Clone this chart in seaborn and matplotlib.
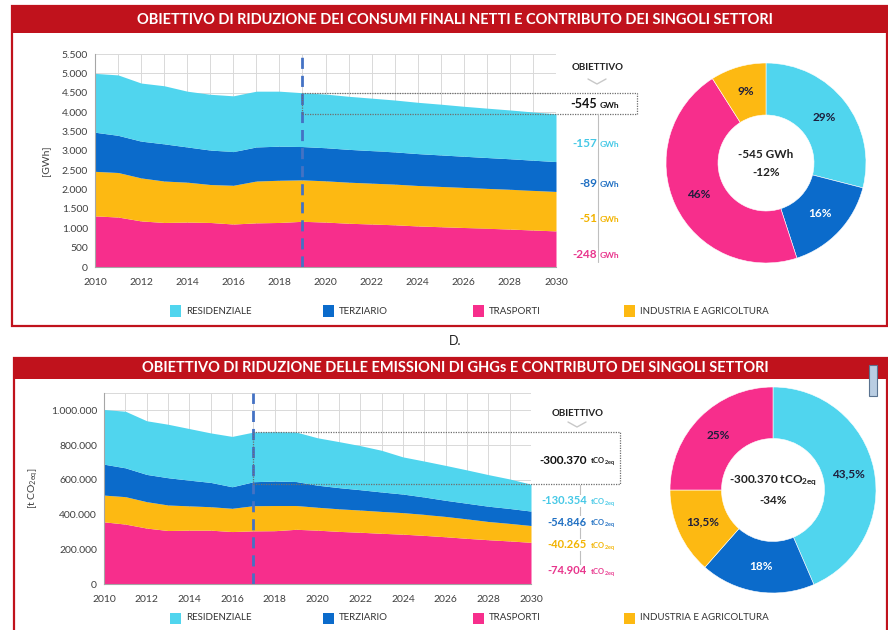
import matplotlib
matplotlib.use("Agg")
import matplotlib.pyplot as plt
import seaborn as sns
from matplotlib.patches import Rectangle
from matplotlib.lines import Line2D
from matplotlib.ticker import FuncFormatter, MultipleLocator
from matplotlib.transforms import blended_transform_factory

# ---------------------------------------------------------------- data
years = list(range(2010, 2031))

sectors = ["RESIDENZIALE", "TERZIARIO", "TRASPORTI", "INDUSTRIA E AGRICOLTURA"]
sector_colors = {"RESIDENZIALE": "#50D5EE", "TERZIARIO": "#0B6BCB",
                 "TRASPORTI": "#F72E8C", "INDUSTRIA E AGRICOLTURA": "#FDB912"}
label_colors = {"RESIDENZIALE": "#45C8E6", "TERZIARIO": "#1F6FC2",
                "TRASPORTI": "#E8358C", "INDUSTRIA E AGRICOLTURA": "#F2B300"}

# Consumi finali netti [GWh]
gwh_trasporti = [1320, 1290, 1190, 1150, 1160, 1150, 1110, 1140, 1150, 1180, 1160,
                 1130, 1110, 1090, 1060, 1040, 1020, 1000, 980, 955, 932]
gwh_industria = [1150, 1150, 1110, 1070, 1030, 980, 1000, 1080, 1090, 1070, 1065,
                 1060, 1055, 1050, 1045, 1040, 1035, 1030, 1027, 1023, 1019]
gwh_terziario = [1010, 960, 950, 960, 910, 890, 870, 880, 880, 860, 855,
                 848, 840, 832, 823, 814, 805, 797, 788, 780, 771]
gwh_residenziale = [1520, 1560, 1500, 1500, 1440, 1440, 1440, 1440, 1420, 1390, 1385,
                    1370, 1355, 1340, 1325, 1310, 1290, 1275, 1260, 1245, 1233]
gwh_base_year = 2019
gwh_target = "-545"
gwh_sector_cuts = ["-157", "-89", "-51", "-248"]          # resid., terz., ind., trasp.
gwh_share_sectors = ["RESIDENZIALE", "TERZIARIO", "TRASPORTI", "INDUSTRIA E AGRICOLTURA"]
gwh_shares = [29, 16, 46, 9]
gwh_center = ["-545 GWh", "-12%"]

# Emissioni di GHGs [t CO2eq]
co2_trasporti = [358000, 345000, 322000, 308000, 310000, 310000, 302000, 306000, 307000,
                 315000, 310000, 303000, 298000, 292000, 287000, 280000, 272000, 263000,
                 255000, 248000, 240096]
co2_industria = [154000, 158000, 152000, 147000, 140000, 135000, 134000, 145000, 145000,
                 137000, 132000, 130000, 128000, 126000, 124000, 121000, 117000, 112000,
                 105000, 101000, 96735]
co2_terziario = [178000, 166000, 157000, 157000, 148000, 140000, 124000, 138000, 141000,
                 138000, 127000, 122000, 117000, 112000, 107000, 100000, 93000, 90000,
                 88000, 86000, 83154]
co2_residenziale = [315000, 326000, 309000, 308000, 297000, 285000, 290000, 286000, 284000,
                    285000, 273000, 265000, 254000, 240000, 214000, 207000, 201000, 192000,
                    182000, 170000, 154645]
co2_base_year = 2017
co2_target = "-300.370"
co2_sector_cuts = ["-130.354", "-54.846", "-40.265", "-74.904"]
co2_share_sectors = ["RESIDENZIALE", "TERZIARIO", "INDUSTRIA E AGRICOLTURA", "TRASPORTI"]
co2_shares = [43.5, 18, 13.5, 25]
co2_center = ["-300.370 tCO$_{2eq}$", "-34%"]

title_top = "OBIETTIVO DI RIDUZIONE DEI CONSUMI FINALI NETTI E CONTRIBUTO DEI SINGOLI SETTORI"
title_bottom = "OBIETTIVO DI RIDUZIONE DELLE EMISSIONI DI GHGs E CONTRIBUTO DEI SINGOLI SETTORI"

# ---------------------------------------------------------------- style
sns.set_theme(style="white")
plt.rcParams["font.family"] = ["Lato", "DejaVu Sans"]
plt.rcParams["mathtext.default"] = "regular"

RED = "#C0121C"
GRID = "#D9D9D9"
TICK = "#404040"
DASH = "#4472C4"

W, H = 888, 630
fig = plt.figure(figsize=(8.88, 6.30), dpi=100)
fig.patch.set_facecolor("white")


def fx(x):
    return x / W


def fy(y):
    return 1 - y / H


def axes_px(x0, y0, x1, y1):
    return fig.add_axes([fx(x0), fy(y1), (x1 - x0) / W, (y1 - y0) / H])


def dotted_sep(v):
    return f"{v:,.0f}".replace(",", ".")


def pct_fmt(p):
    p = round(p, 1)
    if abs(p - round(p)) < 1e-6:
        return f"{int(round(p))}%"
    return f"{p:.1f}".replace(".", ",") + "%"


# ---------------------------------------------------------------- frames
def panel_frame(y_bar0, y_bar1, y_bottom, x_left, title):
    fig.add_artist(Rectangle((fx(x_left), fy(y_bottom)), (887 - x_left) / W,
                             (y_bottom - y_bar0) / H, transform=fig.transFigure,
                             fill=False, edgecolor=RED, lw=1.6, clip_on=False))
    fig.add_artist(Rectangle((fx(x_left), fy(y_bar1)), (888 - x_left) / W,
                             (y_bar1 - y_bar0) / H, transform=fig.transFigure,
                             facecolor=RED, edgecolor="none"))
    fig.text(fx(455), fy((y_bar0 + y_bar1) / 2), title, color="white",
             fontsize=10.5, fontweight="bold", ha="center", va="center")


panel_frame(6, 33, 326, 12, title_top)
panel_frame(358, 379, 660, 14, title_bottom)
fig.text(fx(455), fy(341), "D.", fontsize=9, color="#222222", ha="center", va="center")
fig.add_artist(Rectangle((fx(869), fy(396)), 8 / W, 31 / H, transform=fig.transFigure,
                         facecolor="#B9CDE2", edgecolor="#5A7390", lw=0.8))


# ---------------------------------------------------------------- area charts
def area_chart(ax, series, ymax, ystep, gridstep, fmt_y, ylabel, ylabel_x, base_year):
    tr, ind, ter, res = series
    ax.stackplot(years, tr, ind, ter, res,
                 colors=[sector_colors["TRASPORTI"], sector_colors["INDUSTRIA E AGRICOLTURA"],
                         sector_colors["TERZIARIO"], sector_colors["RESIDENZIALE"]],
                 lw=0, zorder=2)
    ax.set_xlim(2010, 2030)
    ax.set_ylim(0, ymax)
    ax.xaxis.set_major_locator(MultipleLocator(2))
    ax.xaxis.set_minor_locator(MultipleLocator(1))
    ax.yaxis.set_major_locator(MultipleLocator(ystep))
    ax.yaxis.set_minor_locator(MultipleLocator(gridstep))
    ax.yaxis.set_major_formatter(FuncFormatter(lambda v, _: fmt_y(v)))
    ax.grid(True, which="both", color=GRID, lw=0.7, zorder=0)
    ax.set_axisbelow(True)
    for s in ["top", "right"]:
        ax.spines[s].set_visible(False)
    for s in ["left", "bottom"]:
        ax.spines[s].set_color("#A6A6A6")
        ax.spines[s].set_linewidth(0.8)
    ax.tick_params(axis="both", which="both", colors="#A6A6A6", labelcolor=TICK,
                   labelsize=7.5, length=3, width=0.7, direction="out")
    ax.tick_params(axis="x", pad=5)
    ax.tick_params(axis="y", pad=2)
    ax.set_ylabel(ylabel, fontsize=7.5, color=TICK)
    ax.yaxis.set_label_coords(ylabel_x, 0.5)
    ax.axvline(base_year, color=DASH, lw=2, ls=(0, (4, 2.5)), zorder=4)
    totals = [a + b + c + d for a, b, c, d in zip(tr, ind, ter, res)]
    return totals


def target_box(ax, base_year, totals, x_right_px, ax_x0, ax_x1):
    top = totals[years.index(base_year)]
    bottom = totals[-1]
    x0 = (base_year - 2010) / 20
    x1 = (x_right_px - ax_x0) / (ax_x1 - ax_x0)
    tr = blended_transform_factory(ax.transAxes, ax.transData)
    ax.add_patch(Rectangle((x0, bottom), x1 - x0, top - bottom, transform=tr,
                           fill=False, edgecolor="#6E6E6E", lw=0.9, ls=(0, (1, 1)),
                           clip_on=False, zorder=5))


def number_unit(x_px, y_px, number, unit, color, nsize, usize, bg=True):
    # both pieces share one baseline, a little below the row centre
    kw = dict(va="baseline", fontweight="bold", color=color)
    base = fy(y_px + 3.5)
    t = fig.text(fx(x_px), base, number, ha="right", fontsize=nsize, **kw)
    u = fig.text(fx(x_px + 2.5), base, unit, ha="left", fontsize=usize, **kw)
    if bg:
        for obj in (t, u):
            obj.set_bbox(dict(facecolor="white", edgecolor="none", pad=0.6))


def chevron(xc, y_top):
    fig.add_artist(Line2D([fx(xc - 9), fx(xc), fx(xc + 9)],
                          [fy(y_top), fy(y_top + 5), fy(y_top)],
                          transform=fig.transFigure, color="#C8C8C8", lw=1.0))


# top chart
ax1 = axes_px(95, 54, 556, 267)
tot1 = area_chart(ax1, (gwh_trasporti, gwh_industria, gwh_terziario, gwh_residenziale),
                  5500, 500, 500, dotted_sep, "[GWh]", -0.098, gwh_base_year)
target_box(ax1, gwh_base_year, tot1, 637, 95, 556)
fig.add_artist(Line2D([fx(598), fx(598)], [fy(114), fy(262)], transform=fig.transFigure,
                      color="#BFBFBF", lw=0.8))
fig.text(fx(598), fy(67), "OBIETTIVO", fontsize=7, fontweight="bold", ha="center",
         va="center", color="#222222")
chevron(597, 79)
number_unit(597, 104, gwh_target, "GWh", "#111111", 9, 6, bg=False)
cut_sectors = ["RESIDENZIALE", "TERZIARIO", "INDUSTRIA E AGRICOLTURA", "TRASPORTI"]
for val, sec, ypx in zip(gwh_sector_cuts, cut_sectors, [143, 183, 218, 254]):
    number_unit(597, ypx, val, "GWh", label_colors[sec], 8.5, 6)

# bottom chart
ax2 = axes_px(104, 393, 531, 584)
tot2 = area_chart(ax2, (co2_trasporti, co2_industria, co2_terziario, co2_residenziale),
                  1100000, 200000, 100000, dotted_sep, "[t CO$_{2eq}$]", -0.15, co2_base_year)
ax2.yaxis.set_minor_locator(MultipleLocator(1100000))
target_box(ax2, co2_base_year, tot2, 620, 104, 531)
fig.add_artist(Line2D([fx(580), fx(580)], [fy(485), fy(568)], transform=fig.transFigure,
                      color="#BFBFBF", lw=0.8))
fig.text(fx(578), fy(414), "OBIETTIVO", fontsize=7, fontweight="bold", ha="center",
         va="center", color="#222222")
chevron(577, 422)
number_unit(587, 460, co2_target, "tCO$_{2eq}$", "#111111", 8.5, 5.5, bg=False)
for val, sec, ypx in zip(co2_sector_cuts, cut_sectors, [501, 522, 545, 571]):
    number_unit(587, ypx, val, "tCO$_{2eq}$", label_colors[sec], 8, 5.5)


# ---------------------------------------------------------------- donuts
def donut(ax, shares, order, width, center_lines, dark_sector):
    cols = [sector_colors[s] for s in order]
    wedges, _, autot = ax.pie(shares, colors=cols, startangle=90, counterclock=False,
                              wedgeprops=dict(width=width, edgecolor="white", lw=0.4),
                              autopct=pct_fmt, pctdistance=1 - width / 2, radius=1)
    for s, t in zip(order, autot):
        t.set_fontsize(8.5)
        t.set_fontweight("bold")
        t.set_color("white" if s == dark_sector else "#1E1E3C")
    ax.text(0, 0.09, center_lines[0], ha="center", va="center", fontsize=8.5,
            fontweight="bold", color="#222222")
    ax.text(0, -0.1, center_lines[1], ha="center", va="center", fontsize=8.5,
            fontweight="bold", color="#222222")
    ax.set_xlim(-1, 1)
    ax.set_ylim(-1, 1)
    ax.set_aspect("equal")
    ax.axis("off")


d1 = axes_px(666, 63, 866, 263)
donut(d1, gwh_shares, gwh_share_sectors, 0.52, gwh_center, "TERZIARIO")
d2 = axes_px(670, 387, 876, 593)
donut(d2, co2_shares, co2_share_sectors, 0.5, co2_center, "TERZIARIO")


# ---------------------------------------------------------------- legends
def legend_row(y_px):
    for sec, x_px in zip(sectors, [170, 323, 473, 624]):
        fig.add_artist(Rectangle((fx(x_px), fy(y_px + 5.5)), 11 / W, 11 / H,
                                 transform=fig.transFigure,
                                 facecolor=sector_colors[sec], edgecolor="none"))
        fig.text(fx(x_px + 16), fy(y_px), sec, fontsize=7, color="#333333",
                 ha="left", va="center")


legend_row(311)
legend_row(618)

fig.savefig("out.png", dpi=100, facecolor="white")
